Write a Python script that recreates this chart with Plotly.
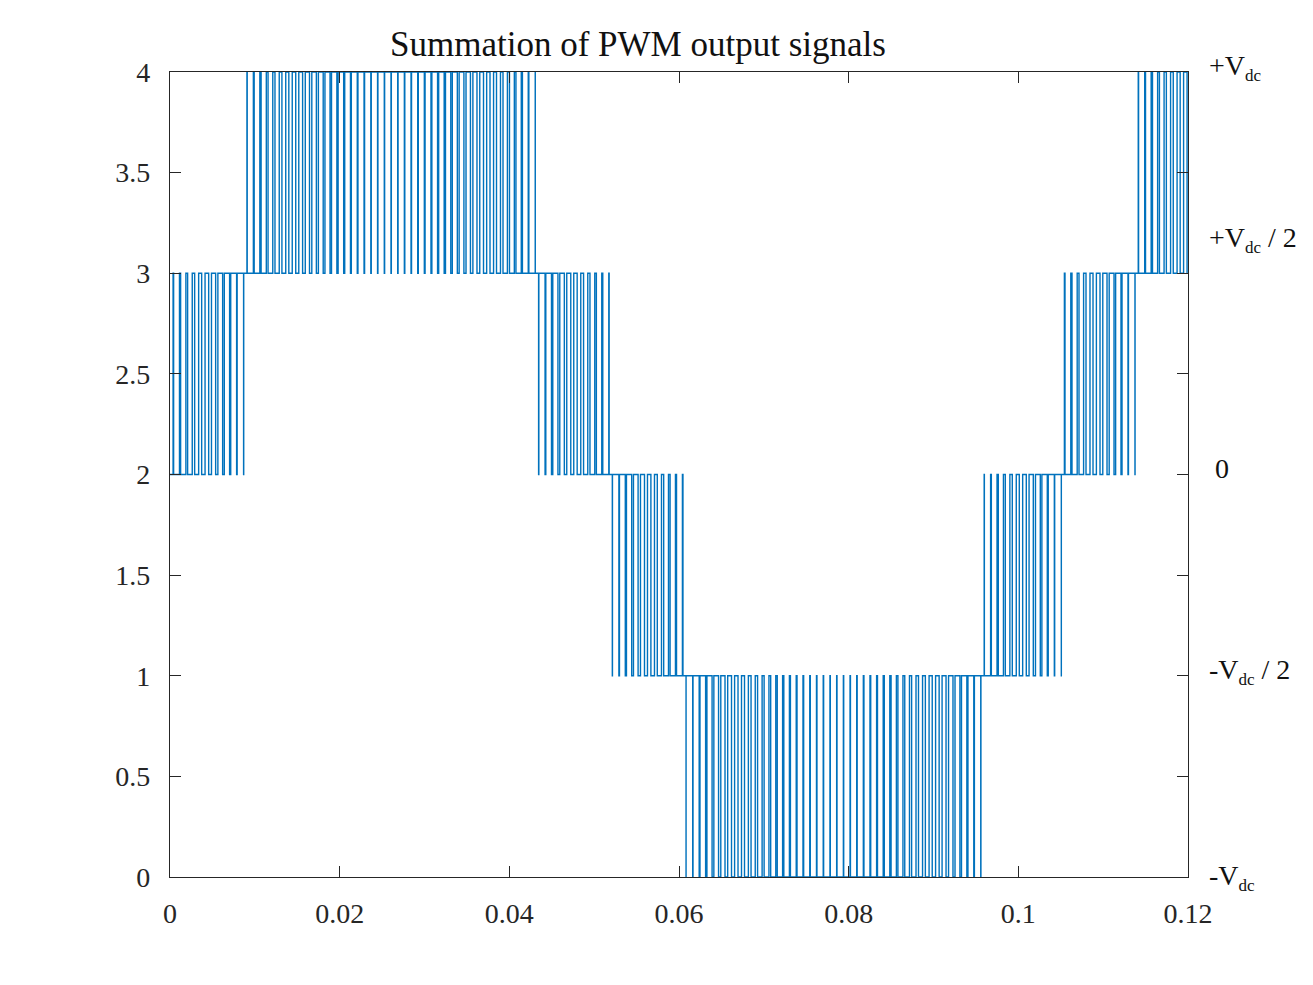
import plotly.graph_objects as go

# PWM carrier cycle (s), read from the spacing of the pulses
carrier_period = 0.00079

# lower output level of each band the summed signal switches in
band_low = [2, 3, 2, 1, 0, 1, 2, 3]

# fraction of every carrier cycle spent at the upper level of its band
duty_1 = [0.08, 0.17, 0.26, 0.36, 0.45, 0.54, 0.62, 0.71, 0.79, 0.88, 0.96]
duty_2 = [0.04, 0.12, 0.19, 0.26, 0.33, 0.40, 0.46, 0.52, 0.57, 0.63, 0.68,
          0.72, 0.76, 0.80, 0.83, 0.86, 0.89, 0.91, 0.93, 0.94, 0.95, 0.95,
          0.95, 0.94, 0.93, 0.92, 0.90, 0.88, 0.85, 0.82, 0.79, 0.75, 0.71,
          0.66, 0.61, 0.56, 0.50, 0.44, 0.38, 0.31, 0.24, 0.17, 0.09, 0.01]
duty_3 = [0.93, 0.85, 0.77, 0.68, 0.60, 0.51, 0.42, 0.33, 0.24, 0.15, 0.05]
duty_4 = [0.96, 0.87, 0.78, 0.69, 0.60, 0.51, 0.42, 0.33, 0.24, 0.16, 0.08]
duty_5 = [0.99, 0.92, 0.84, 0.77, 0.70, 0.63, 0.57, 0.51, 0.45, 0.40, 0.35,
          0.30, 0.26, 0.22, 0.18, 0.15, 0.12, 0.10, 0.08, 0.07, 0.06, 0.05,
          0.05, 0.05, 0.06, 0.07, 0.09, 0.11, 0.13, 0.16, 0.19, 0.23, 0.27,
          0.32, 0.37, 0.42, 0.47, 0.53, 0.59, 0.66, 0.73, 0.80, 0.87, 0.95]
duty_6 = [0.03, 0.11, 0.19, 0.28, 0.36, 0.45, 0.54, 0.63, 0.72, 0.81, 0.91, 0.99]
duty_7 = [0.09, 0.18, 0.27, 0.36, 0.45, 0.54, 0.63, 0.72, 0.80, 0.89, 0.97]
duty_8 = [0.05, 0.12, 0.20, 0.27, 0.34, 0.40, 0.46, 0.52]

seg_duty = [duty_1, duty_2, duty_3, duty_4, duty_5, duty_6, duty_7, duty_8]

x_ticks = [0, 0.02, 0.04, 0.06, 0.08, 0.1, 0.12]
y_ticks = [0, 0.5, 1, 1.5, 2, 2.5, 3, 3.5, 4]

sub = '<sub><span style="font-size:17px">dc</span></sub>'
right_labels = ['+V' + sub, '+V' + sub + ' / 2', '0',
                '-V' + sub + ' / 2', '-V' + sub]
right_label_at = [4.02, 3.17, 2.03, 1.02, 0.0]

# build the step waveform, one pulse centred in each carrier cycle
t, v = [], []
k = 0
for low, duties in zip(band_low, seg_duty):
    for d in duties:
        c = (k + 0.5) * carrier_period
        half = d * carrier_period / 2
        t += [k * carrier_period, c - half, c + half]
        v += [low, low + 1, low]
        k += 1

fig = go.Figure()
fig.add_trace(go.Scatter(x=t, y=v, mode='lines', line_shape='hv',
                         line=dict(color='#0072BD', width=1.4),
                         hoverinfo='skip'))

serif = 'Liberation Serif, Times New Roman, serif'
axis_font = dict(family=serif, size=28, color='#262626')
frame = dict(showline=True, linecolor='#262626', linewidth=1.2, mirror='ticks',
             ticks='inside', ticklen=11, tickcolor='#262626', tickwidth=1.2,
             showgrid=False, zeroline=False, tickfont=axis_font)

# page body has an 8px margin, so the figure is 8px smaller than the window
fig.update_layout(
    width=1305, height=977,
    margin=dict(l=162, r=125, t=64, b=108),
    plot_bgcolor='white', paper_bgcolor='white',
    showlegend=False,
    title=dict(text='Summation of PWM output signals', x=630 / 1305,
               xanchor='center', y=1 - 36 / 977, yanchor='middle',
               font=dict(family=serif, size=35, color='#111111')),
    xaxis=dict(range=[0, 0.12], tickvals=x_ticks, ticklabelstandoff=11, **frame),
    yaxis=dict(range=[0, 4], tickvals=y_ticks, ticklabelstandoff=13, **frame),
)

for label, at in zip(right_labels, right_label_at):
    fig.add_annotation(text=label, x=1.0187 if label != '0' else 1.0246,
                       xref='paper', y=at / 4, yref='paper', xanchor='left',
                       yanchor='middle', showarrow=False,
                       font=dict(family=serif, size=28, color='#111111'))

fig.write_html("out.html")
